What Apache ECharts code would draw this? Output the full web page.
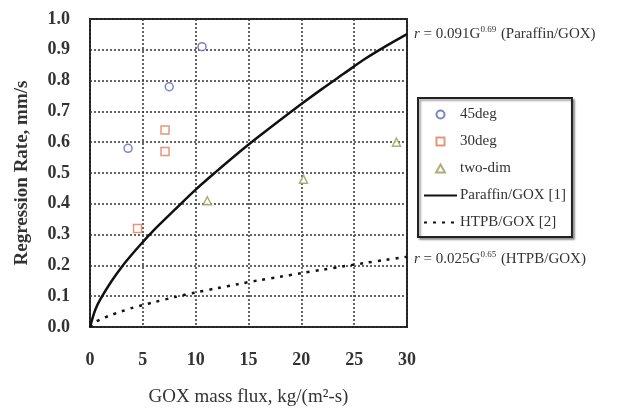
<!DOCTYPE html>
<html>
<head>
<meta charset="utf-8">
<script src="https://cdn.jsdelivr.net/npm/echarts@6/dist/echarts.min.js"></script>
<style>
  html, body { margin: 0; padding: 0; background: #fff; }
  #chart { width: 624px; height: 412px; }
</style>
</head>
<body>
<div id="chart"></div>
<script>
var deg45 = [[3.6, 0.58], [7.5, 0.78], [10.6, 0.91]];
var deg30 = [[4.5, 0.32], [7.1, 0.64], [7.1, 0.57]];
var twoDim = [[11.1, 0.41], [20.2, 0.48], [29.0, 0.60]];

// fitted curves (G, r)
var fluxPts = [0, 0.5, 1, 2, 3, 4, 5, 6, 8, 10, 12, 14, 16, 18, 20, 22, 24, 26, 28, 30];
var paraffinR = [0, 0.056, 0.091, 0.147, 0.195, 0.237, 0.276, 0.313, 0.380, 0.446, 0.506, 0.564, 0.619, 0.672, 0.724, 0.774, 0.822, 0.870, 0.912, 0.951];
var htpbR = [0, 0.016, 0.025, 0.039, 0.051, 0.062, 0.071, 0.080, 0.097, 0.112, 0.126, 0.139, 0.152, 0.163, 0.175, 0.186, 0.197, 0.208, 0.218, 0.228];

var xTicks = [0, 5, 10, 15, 20, 25, 30];

var serif = '"Liberation Serif", "DejaVu Serif", serif';
var noMarker = { color: 'rgba(0,0,0,0)', borderColor: 'rgba(0,0,0,0)', borderWidth: 0 };
var eqRich = {
	i: { fontStyle: 'italic', fontSize: 15, fontFamily: serif, fill: '#333' },
	s: { fontSize: 9, fontFamily: serif, verticalAlign: 'top', padding: [0, 1, 9, 0], fill: '#333' }
};

function pair(xs, ys) {
	var out = [];
	for (var i = 0; i < xs.length; i++) {
		out.push([xs[i], ys[i]]);
	}
	return out;
}

var myChart = echarts.init(document.getElementById('chart'));

var option = {
	animation: false,
	backgroundColor: '#fff',
	textStyle: { fontFamily: serif },
	grid: {
		left: 90, right: 217, top: 19, bottom: 84,
		show: true,
		borderColor: '#222',
		borderWidth: 2
	},
	legend: {
		data: [
			{ name: '45deg', icon: 'circle' },
			{ name: '30deg', icon: 'path://M0,0h10v10h-10z' },
			{ name: 'two-dim', icon: 'path://M5,0L10,9L0,9z' },
			{ name: 'Paraffin/GOX [1]', itemStyle: noMarker },
			{ name: 'HTPB/GOX [2]', itemStyle: noMarker }
		],
		symbolKeepAspect: true,
		orient: 'vertical',
		left: 418,
		top: 98,
		padding: [9, 6, 7, 5],
		itemGap: 12,
		itemWidth: 33,
		itemHeight: 8,
		itemStyle: {},
		borderColor: '#222',
		borderWidth: 2,
		backgroundColor: '#fff',
		shadowColor: 'rgba(0,0,0,0.35)',
		shadowBlur: 2,
		shadowOffsetX: 2,
		shadowOffsetY: 2,
		textStyle: { fontFamily: serif, fontSize: 15, color: '#333', padding: [1, 0, 1, -2] }
	},
	xAxis: {
		type: 'value',
		min: 0, max: 30, interval: 5,
		name: 'GOX mass flux, kg/(m\u00b2-s)',
		nameLocation: 'middle',
		nameGap: 61,
		nameTextStyle: { fontFamily: serif, fontSize: 19, color: '#333' },
		axisLine: { show: false },
		axisTick: { show: false },
		axisLabel: {
			margin: 24,
			fontFamily: serif, fontSize: 18, fontWeight: 'bold', color: '#333',
			formatter: function (v) { return xTicks.indexOf(v) >= 0 ? String(v) : ''; }
		},
		splitLine: { show: true, lineStyle: { type: [2, 2], color: '#333', width: 1.5 } }
	},
	yAxis: {
		type: 'value',
		min: 0, max: 1, interval: 0.1,
		name: 'Regression Rate, mm/s',
		nameLocation: 'middle',
		nameGap: 58,
		nameTextStyle: { fontFamily: serif, fontSize: 19, fontWeight: 'bold', color: '#333' },
		axisLine: { show: false },
		axisTick: { show: false },
		axisLabel: {
			margin: 20,
			fontFamily: serif, fontSize: 18, fontWeight: 'bold', color: '#333',
			formatter: function (v) { return v.toFixed(1); }
		},
		splitLine: { show: true, lineStyle: { type: [2, 2], color: '#333', width: 1.5 } }
	},
	series: [
		{
			name: '45deg', type: 'scatter', data: deg45,
			symbol: 'circle', symbolSize: 8,
			itemStyle: { color: '#fff', borderColor: '#5a64b8', borderWidth: 1.5 },
			z: 5
		},
		{
			name: '30deg', type: 'scatter', data: deg30,
			symbol: 'rect', symbolSize: 8,
			itemStyle: { color: '#fff', borderColor: '#e07a5a', borderWidth: 1.5 },
			z: 5
		},
		{
			name: 'two-dim', type: 'scatter', data: twoDim,
			symbol: 'triangle', symbolSize: 8,
			itemStyle: { color: '#fff', borderColor: '#9a9a5a', borderWidth: 1.5 },
			z: 5
		},
		{
			name: 'Paraffin/GOX [1]', type: 'line', data: pair(fluxPts, paraffinR),
			symbol: 'none', smooth: 0.3,
			lineStyle: { color: '#111', width: 2.5 },
			itemStyle: noMarker
		},
		{
			name: 'HTPB/GOX [2]', type: 'line', data: pair(fluxPts, htpbR),
			symbol: 'none', smooth: 0.3,
			lineStyle: { color: '#111', width: 2.5, type: [3, 6] },
			itemStyle: noMarker
		}
	],
	graphic: [
		{
			type: 'text', left: 414, top: 25,
			style: {
				text: '{i|r} = 0.091G{s|0.69} (Paraffin/GOX)',
				font: '15px ' + serif, fill: '#333',
				rich: eqRich
			}
		},
		{
			type: 'text', left: 414, top: 250,
			style: {
				text: '{i|r} = 0.025G{s|0.65} (HTPB/GOX)',
				font: '15px ' + serif, fill: '#333',
				rich: eqRich
			}
		}
	]
};

myChart.setOption(option);
</script>
</body>
</html>
